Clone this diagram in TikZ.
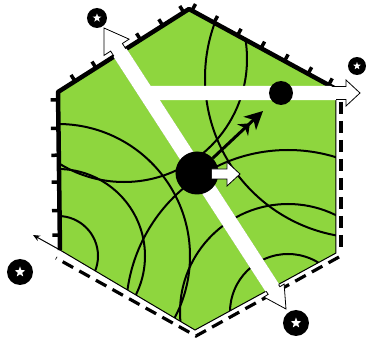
\documentclass[tikz,border=0pt]{standalone}
\usetikzlibrary{calc,arrows.meta,shapes.geometric}
\definecolor{leaf}{RGB}{142,214,62}
\begin{document}
\begin{tikzpicture}[x=1pt,y=-1pt,
  contour/.style={line width=2pt},
  thickedge/.style={line width=4.5pt},
  tickmark/.style={line width=3.5pt},
  dashedge/.style={line width=3.2pt, dash pattern=on 12pt off 7pt},
  whitestar/.style={star, star points=5, star point ratio=2.4, fill=white, inner sep=0pt},
  srcnode/.style={circle, fill=black, inner sep=0pt},
  whitearrow/.style={fill=white, draw=black, line width=0.8pt, line join=miter},
]
\useasboundingbox (0,0) rectangle (368,340);
% hexagon corners
\coordinate (TOP) at (189,9);
\coordinate (UR) at (336,89);
\coordinate (LR) at (336,253);
\coordinate (BOT) at (195,330);
\coordinate (LL) at (60,250);
\coordinate (UL) at (58,92);
\fill[leaf] (TOP)--(UR)--(LR)--(BOT)--(LL)--(UL)--cycle;
% contour lines
\begin{scope}
\clip (TOP)--(UR)--(LR)--(BOT)--(LL)--(UL)--cycle;
\draw[contour] (58,256) circle[radius=40] (58,256) circle[radius=87] (58,256) circle[radius=132];
\draw[contour] (288,312) circle[radius=58] (288,312) circle[radius=108] (288,312) circle[radius=162];
\draw[contour] (365,78) circle[radius=160];
\draw[contour] (124,59) circle[radius=123];
\end{scope}
\draw[line width=1pt] (TOP)--(UR)--(LR)--(BOT)--(LL)--(UL)--cycle;
% thick edges with ticks
\draw[thickedge, line join=round] (LL)--(UL)--(TOP)--(UR);
\foreach \t in {0.095,0.25,0.43,0.60,0.77,0.95}{
  \coordinate (p) at ($(LL)!\t!(UL)$);
  \draw[tickmark] (p) -- ($(p)!7.5pt!90:(UL)$);}
\foreach \t in {0.13,0.29,0.46,0.63,0.80,0.96}{
  \coordinate (p) at ($(UL)!\t!(TOP)$);
  \draw[tickmark] (p) -- ($(p)!7.5pt!90:(TOP)$);}
\foreach \t in {0.02,0.17,0.33,0.49,0.65,0.81,0.95}{
  \coordinate (p) at ($(TOP)!\t!(UR)$);
  \draw[tickmark] (p) -- ($(p)!7.5pt!90:(UR)$);}
% dashed edges
\draw[dashedge] (341,102)--(341,251);
\draw[dashedge] (339,257)--(196,336)--(56,258);
% thin arrow along lower-left edge
\coordinate (LLend) at (33,235);
\draw[line width=1pt, -{Stealth[length=7pt,width=6pt]}] (LL) -- (LLend);
% white double arrow (diagonal) and horizontal arrow
\coordinate (A) at (104,28);
\coordinate (B) at (286,309);
\coordinate (Ah) at ($(A)!23pt!(B)$);
\coordinate (Bh) at ($(B)!22pt!(A)$);
\coordinate (H1) at (146,86.5);
\coordinate (H2) at (346,86.5);
\coordinate (H3) at (346,80);
\coordinate (HT) at (360,93);
\coordinate (H5) at (346,106);
\coordinate (H6) at (346,99.5);
\coordinate (H7) at (146,99.5);
\newcommand\diagbar{(A) -- ($(Ah)!15pt!90:(B)$) -- ($(Ah)!7pt!90:(B)$) -- ($(Bh)!7pt!-90:(A)$) -- ($(Bh)!12pt!-90:(A)$) -- (B) -- ($(Bh)!12pt!90:(A)$) -- ($(Bh)!7pt!90:(A)$) -- ($(Ah)!7pt!-90:(B)$) -- ($(Ah)!15pt!-90:(B)$) -- cycle}
\newcommand\horbar{(H1) -- (H2) -- (H3) -- (HT) -- (H5) -- (H6) -- (H7) -- cycle}
\draw[whitearrow] \diagbar;
\draw[whitearrow] \horbar;
\begin{scope}
\clip (TOP)--(UR)--(LR)--(BOT)--(LL)--(UL)--cycle;
\filldraw[white, line width=1.4pt] \diagbar;
\filldraw[white, line width=1.4pt] \horbar;
\end{scope}
% black dot on horizontal arrow
\node[srcnode, minimum size=24pt] (dot) at (281,93) {};
% main circle with arrows
\node[srcnode, minimum size=43pt] (m) at (197,173) {};
\coordinate (btip) at (263,111);
\draw[line width=3pt, -{Stealth[length=10pt,width=16pt]Stealth[length=18pt,width=18pt,inset=5pt]}] (m) -- (btip);
\draw[whitearrow] (212,169) -- (227,169) -- (227,162) -- (240,174) -- (227,186) -- (227,179) -- (212,179);
% source symbols
\node[srcnode, minimum size=20pt] (s1) at (97,18) {};
\node[whitestar, minimum size=9pt] at (s1) {};
\node[srcnode, minimum size=18pt] (s2) at (357,66) {};
\node[whitestar, minimum size=8pt] at (s2) {};
\node[srcnode, minimum size=26pt] (s3) at (20,272) {};
\node[whitestar, minimum size=11pt] at (s3) {};
\node[srcnode, minimum size=26pt] (s4) at (296,323) {};
\node[whitestar, minimum size=11pt] at (s4) {};
\end{tikzpicture}
\end{document}
